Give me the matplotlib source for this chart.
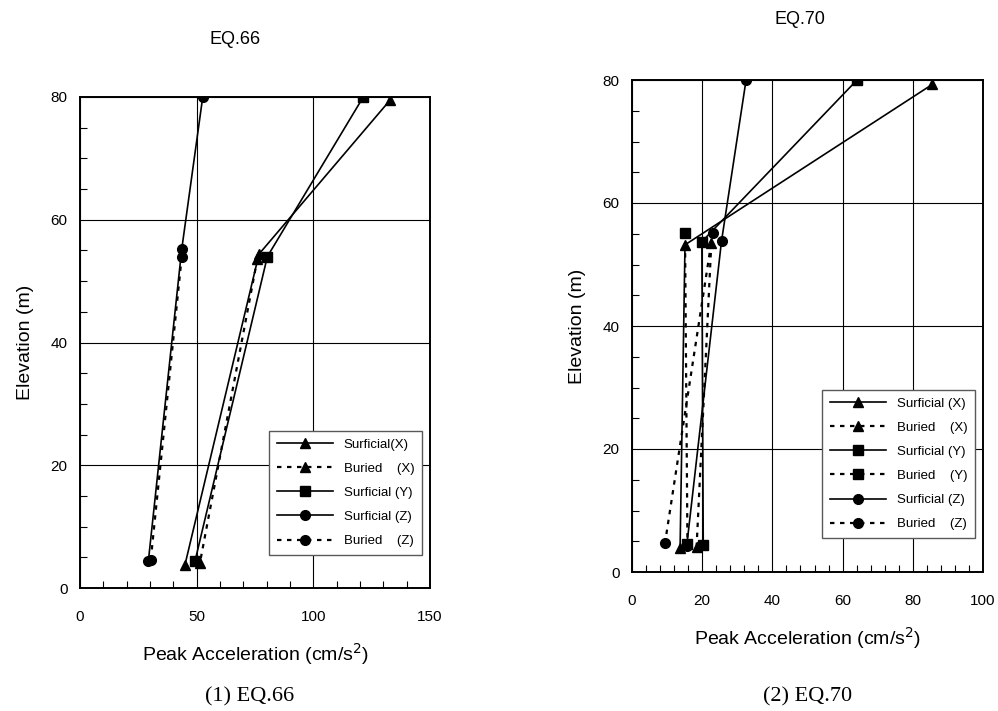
import matplotlib
matplotlib.use("Agg")
import matplotlib.pyplot as plt
from matplotlib.ticker import MultipleLocator

plt.rcParams['font.family'] = ['Liberation Sans', 'DejaVu Sans']

# EQ.66 peak accelerations (cm/s2) vs elevation (m)
eq66_surf_x_acc = [132.9, 76.7, 45.0]
eq66_surf_x_elev = [79.5, 54.4, 3.8]
eq66_bur_x_acc = [76.0, 51.4]
eq66_bur_x_elev = [53.6, 4.1]
eq66_surf_y_acc = [121.4, 80.3, 49.3]
eq66_surf_y_elev = [80.0, 54.0, 4.4]
eq66_surf_z_acc = [52.6, 43.6, 29.3]
eq66_surf_z_elev = [80.0, 55.2, 4.4]
eq66_bur_z_acc = [43.6, 30.3]
eq66_bur_z_elev = [54.0, 4.5]

# EQ.70
eq70_surf_x_acc = [85.6, 15.1, 13.7]
eq70_surf_x_elev = [79.3, 53.2, 3.9]
eq70_bur_x_acc = [22.6, 18.4]
eq70_bur_x_elev = [53.5, 4.1]
eq70_surf_y_acc = [64.1, 19.9, 20.3]
eq70_surf_y_elev = [80.0, 53.7, 4.4]
eq70_bur_y_acc = [15.1, 15.8]
eq70_bur_y_elev = [55.1, 4.6]
eq70_surf_z_acc = [32.5, 25.5, 15.6]
eq70_surf_z_elev = [80.0, 53.8, 4.3]
eq70_bur_z_acc = [23.0, 9.4]
eq70_bur_z_elev = [55.1, 4.7]

W, H = 998, 711
fig = plt.figure(figsize=(W / 100, H / 100), dpi=100)

def px_axes(x0, y0, x1, y1):
    # pixel box (top-left origin) -> figure fraction
    return [x0 / W, 1 - y1 / H, (x1 - x0) / W, (y1 - y0) / H]

solid = dict(color='black', lw=1.2, ls='-', ms=7)
dotted = dict(color='black', lw=1.6, ls=(0, (2, 2.5)), ms=7)


def style_axes(ax, xmax, xmajor, xminor, label_pad):
    ax.set_xlim(0, xmax)
    ax.set_ylim(0, 80)
    ax.xaxis.set_major_locator(MultipleLocator(xmajor))
    ax.xaxis.set_minor_locator(MultipleLocator(xminor))
    ax.yaxis.set_major_locator(MultipleLocator(20))
    ax.yaxis.set_minor_locator(MultipleLocator(5))
    ax.tick_params(which='both', direction='in', top=False, right=False, labelsize=11)
    ax.tick_params(axis='x', which='major', pad=label_pad, length=0)
    ax.tick_params(axis='y', which='major', pad=9, length=0)
    ax.tick_params(which='minor', length=5, width=0.8)
    ax.grid(True, which='major', color='black', lw=0.8)
    for s in ax.spines.values():
        s.set_linewidth(1.4)
    ax.set_axisbelow(True)


# left panel
ax1 = fig.add_axes(px_axes(80, 97, 430, 588))
ax1.plot(eq66_surf_x_acc, eq66_surf_x_elev, marker='^', label='Surficial(X)', **solid)
ax1.plot(eq66_bur_x_acc, eq66_bur_x_elev, marker='^', label='Buried    (X)', **dotted)
ax1.plot(eq66_surf_y_acc, eq66_surf_y_elev, marker='s', label='Surficial (Y)', **solid)
ax1.plot(eq66_surf_z_acc, eq66_surf_z_elev, marker='o', label='Surficial (Z)', **solid)
ax1.plot(eq66_bur_z_acc, eq66_bur_z_elev, marker='o', label='Buried    (Z)', **dotted)
style_axes(ax1, 150, 50, 10, 16)
ax1.set_xlabel('Peak Acceleration (cm/s$^2$)', fontsize=14, labelpad=12)
ax1.set_ylabel('Elevation (m)', fontsize=14, labelpad=12)
ax1.legend(loc='upper left', bbox_to_anchor=(262 / W, 1 - 424 / H),
           bbox_transform=fig.transFigure, fontsize=9.5, handlelength=4.3,
           labelspacing=0.9, borderpad=0.6, fancybox=False, framealpha=1,
           edgecolor='0.35')

# right panel
ax2 = fig.add_axes(px_axes(632, 80, 983, 572))
ax2.plot(eq70_surf_x_acc, eq70_surf_x_elev, marker='^', label='Surficial (X)', **solid)
ax2.plot(eq70_bur_x_acc, eq70_bur_x_elev, marker='^', label='Buried    (X)', **dotted)
ax2.plot(eq70_surf_y_acc, eq70_surf_y_elev, marker='s', label='Surficial (Y)', **solid)
ax2.plot(eq70_bur_y_acc, eq70_bur_y_elev, marker='s', label='Buried    (Y)', **dotted)
ax2.plot(eq70_surf_z_acc, eq70_surf_z_elev, marker='o', label='Surficial (Z)', **solid)
ax2.plot(eq70_bur_z_acc, eq70_bur_z_elev, marker='o', label='Buried    (Z)', **dotted)
style_axes(ax2, 100, 20, 4, 16)
ax2.set_xlabel('Peak Acceleration (cm/s$^2$)', fontsize=14, labelpad=12)
ax2.set_ylabel('Elevation (m)', fontsize=14, labelpad=12)
ax2.legend(loc='upper left', bbox_to_anchor=(815 / W, 1 - 383 / H),
           bbox_transform=fig.transFigure, fontsize=9.5, handlelength=4.3,
           labelspacing=0.9, borderpad=0.6, fancybox=False, framealpha=1,
           edgecolor='0.35')

# titles and captions
fig.text(235 / W, 1 - 39 / H, 'EQ.66', ha='center', va='center', fontsize=13)
fig.text(800 / W, 1 - 20 / H, 'EQ.70', ha='center', va='center', fontsize=13)
fig.text(250 / W, 1 - 697 / H, '(1) EQ.66', ha='center', va='center', fontsize=16,
         family=['Liberation Serif', 'DejaVu Serif'])
fig.text(808 / W, 1 - 697 / H, '(2) EQ.70', ha='center', va='center', fontsize=16,
         family=['Liberation Serif', 'DejaVu Serif'])

fig.savefig('out.png', dpi=100)
